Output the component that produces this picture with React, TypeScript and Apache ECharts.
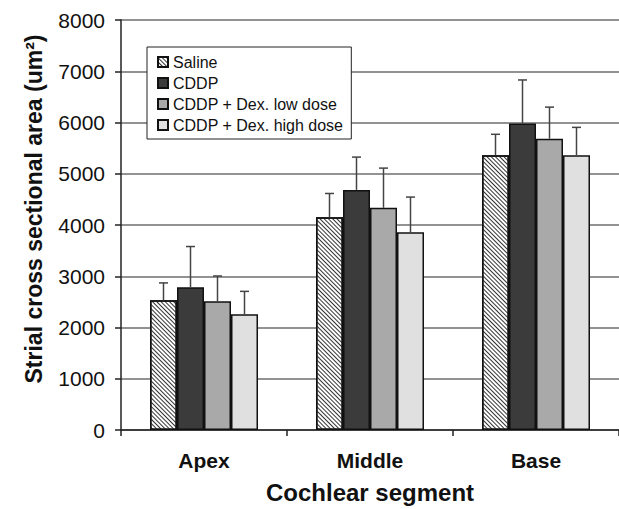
import React, { useEffect, useRef } from "react";
import * as echarts from "echarts";

const categories = ["Apex", "Middle", "Base"];
const seriesNames = ["Saline", "CDDP", "CDDP + Dex. low dose", "CDDP + Dex. high dose"];
const salineMean = [2530, 4150, 5360];
const salineTop = [2870, 4615, 5770];
const cddpMean = [2785, 4685, 5980];
const cddpTop = [3580, 5325, 6830];
const lowMean = [2510, 4335, 5685];
const lowTop = [3005, 5110, 6300];
const highMean = [2260, 3860, 5360];
const highTop = [2705, 4545, 5905];
const yTicks = { min: 0, max: 8000, interval: 1000 };

const means = [salineMean, cddpMean, lowMean, highMean];
const tops = [salineTop, cddpTop, lowTop, highTop];
const fills = ["#ffffff", "#3b3b3b", "#a9a9a9", "#e0e0e0"];

const FONT = "Liberation Sans, Arial, sans-serif";
const BAR_W = 27;

export default function App() {
  const ref = useRef<HTMLDivElement>(null);
  useEffect(() => {
    if (!ref.current) return;
    const chart = echarts.init(ref.current, null, { renderer: "svg" });
    const barSeries = seriesNames.map((name, i) => ({
      name,
      type: "bar",
      data: means[i],
      barWidth: BAR_W,
      barGap: "0%",
      z: 2,
      itemStyle: {
        color: fills[i],
        borderColor: "#111",
        borderWidth: 1.5,
        ...(i === 0
          ? {
              decal: {
                symbol: "rect",
                symbolSize: 1,
                dashArrayX: [1, 0],
                dashArrayY: [1, 1.8],
                rotation: Math.PI / 4,
                color: "#333",
              },
            }
          : {}),
      },
    }));
    const errSeries = seriesNames.map((name, i) => ({
      name: name + " err",
      type: "custom",
      z: 3,
      data: categories.map((_, c) => [c, means[i][c], tops[i][c]]),
      renderItem: (params: any, api: any) => {
        const off = (i - 1.5) * BAR_W;
        const p0 = api.coord([api.value(0), api.value(1)]);
        const p1 = api.coord([api.value(0), api.value(2)]);
        const x = p0[0] + off;
        const style = { stroke: "#444", lineWidth: 1.5 };
        return {
          type: "group",
          children: [
            { type: "line", shape: { x1: x, y1: p0[1], x2: x, y2: p1[1] }, style },
            { type: "line", shape: { x1: x - 4.5, y1: p1[1], x2: x + 4.5, y2: p1[1] }, style },
          ],
        };
      },
    }));
    chart.setOption({
      animation: false,
      grid: { left: 121, top: 20, width: 500, bottom: 77 },
      legend: {
        data: seriesNames.map((n) => ({ name: n, icon: "rect" })),
        orient: "vertical",
        left: 147,
        top: 47,
        itemWidth: 10,
        itemHeight: 10,
        itemGap: 5,
        padding: [7, 8, 6, 10],
        borderColor: "#222",
        borderWidth: 1,
        borderRadius: 0,
        backgroundColor: "#fff",
        textStyle: { fontFamily: FONT, fontSize: 16, color: "#111" },
      },
      xAxis: {
        type: "category",
        data: categories,
        axisLine: { lineStyle: { color: "#222", width: 1.5 } },
        axisTick: { show: true, length: 6, lineStyle: { color: "#222", width: 1.5 } },
        axisLabel: { fontFamily: FONT, fontSize: 21, fontWeight: "bold", color: "#111", margin: 20 },
        name: "Cochlear segment",
        nameLocation: "middle",
        nameGap: 50,
        nameTextStyle: { fontFamily: FONT, fontSize: 24, fontWeight: "bold", color: "#111" },
      },
      yAxis: {
        type: "value",
        min: yTicks.min,
        max: yTicks.max,
        interval: yTicks.interval,
        axisLine: { show: true, lineStyle: { color: "#222", width: 1.5 } },
        axisTick: { show: true, length: 6, lineStyle: { color: "#222", width: 1.5 } },
        axisLabel: {
          fontFamily: FONT,
          fontSize: 21,
          color: "#111",
          margin: 16,
          formatter: (v: number) => String(v),
        },
        splitLine: { lineStyle: { color: "#6e6e6e", width: 1.5 } },
      },
      graphic: [
        {
          type: "text",
          x: 34,
          y: 209,
          rotation: Math.PI / 2,
          style: {
            text: "Strial cross sectional area (um²)",
            font: `bold 23px ${FONT}`,
            fill: "#111",
            textAlign: "center",
            textVerticalAlign: "middle",
          },
        },
      ],
      series: [...barSeries, ...errSeries],
    });
    return () => chart.dispose();
  }, []);
  return (
    <div
      ref={ref}
      style={{ position: "fixed", left: 0, top: 0, width: 619, height: 509, background: "#fff" }}
    />
  );
}
